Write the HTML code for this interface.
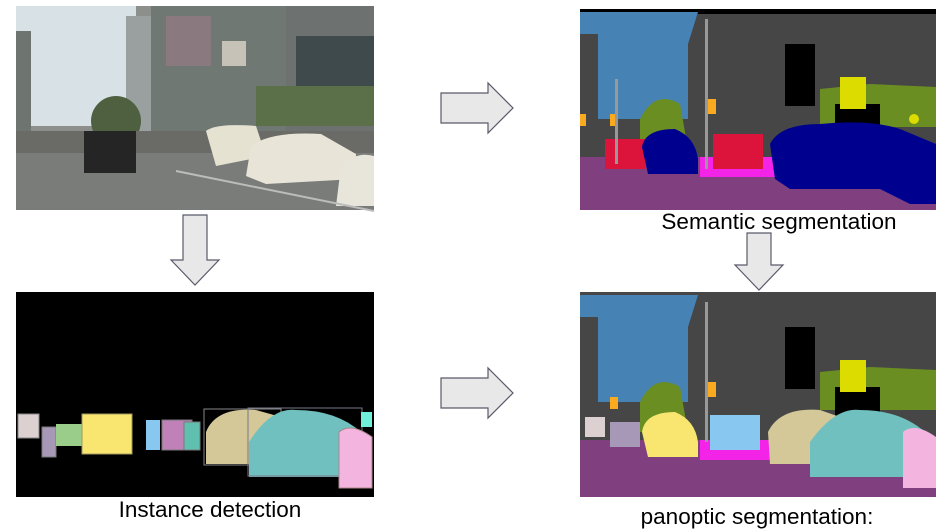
<!DOCTYPE html>
<html><head><style>
html,body{margin:0;padding:0;background:#fff;width:947px;height:530px;overflow:hidden}
svg{display:block}
text{font-family:"Liberation Sans",sans-serif;font-size:22.5px;fill:#000}
</style></head><body>
<svg width="947" height="530" viewBox="0 0 947 530" xmlns="http://www.w3.org/2000/svg">
<!-- Photo -->
<g transform="translate(16,6)">
<rect width="358" height="204" fill="#8d8f8c"/>
<rect width="120" height="120" fill="#d8e2e6"/>
<rect x="0" y="25" width="15" height="105" fill="#6e7470"/>
<rect x="110" y="10" width="30" height="140" fill="#9aa0a0"/>
<rect x="135" y="0" width="135" height="145" fill="#707874"/>
<rect x="270" y="0" width="88" height="130" fill="#6d7270"/>
<rect x="150" y="10" width="45" height="50" fill="#8a7a80"/>
<rect x="206" y="35" width="24" height="25" fill="#c7c2b8"/>
<rect x="280" y="30" width="78" height="50" fill="#3f4a4c"/>
<rect x="240" y="80" width="118" height="40" fill="#5b7048"/>
<ellipse cx="100" cy="115" rx="25" ry="25" fill="#4e6040"/>
<rect x="0" y="145" width="358" height="59" fill="#7a7c7a"/>
<rect x="0" y="125" width="358" height="22" fill="#6a6a66"/>
<path d="M68,125 h52 v42 h-52z" fill="#252525"/>
<path d="M190,125 q10,-8 50,-5 l10,30 -50,10 z" fill="#e6e2d2"/>
<path d="M230,170 l5,-30 q20,-15 70,-12 l35,20 v25 l-90,5z" fill="#e8e5d8"/>
<path d="M320,200 l5,-40 q15,-15 33,-10 v50z" fill="#e8e6da"/>
<path d="M160,165 l198,40" stroke="#bcbcbc" stroke-width="2"/>
</g>
<!-- Semantic -->
<g transform="translate(580,9)">
<rect width="356" height="201" fill="#464646"/>
<rect width="356" height="5" fill="#000"/>
<path d="M0,3 H118 L108,35 V110 H18 V25 H0Z" fill="#4682b4"/>
<rect x="205" y="35" width="30" height="62" fill="#000"/>
<path d="M240,80 L290,75 L356,78 V118 H240Z" fill="#6b8e23"/>
<path d="M60,110 Q75,80 100,95 L108,140 H60Z" fill="#6b8e23"/>
<rect x="255" y="95" width="45" height="30" fill="#000"/>
<rect x="260" y="68" width="26" height="32" fill="#dcdc00"/>
<circle cx="334" cy="110" r="5" fill="#dcdc00"/>
<rect x="0" y="148" width="356" height="53" fill="#804080"/>
<rect x="120" y="148" width="75" height="20" fill="#f423e8"/>
<path d="M25,130 h40 v30 h-40z" fill="#dc143c"/>
<path d="M133,125 h50 v35 h-50z" fill="#dc143c"/>
<path d="M62,138 Q65,120 95,120 Q115,128 118,150 V165 H68Z" fill="#00008e"/>
<path d="M190,135 Q200,115 240,115 Q290,110 320,120 L356,135 V195 H330 L300,180 H210 L195,170Z" fill="#00008e"/>
<rect x="30" y="105" width="8" height="12" fill="#faaa1e"/>
<rect x="128" y="90" width="8" height="15" fill="#faaa1e"/>
<rect x="0" y="105" width="6" height="12" fill="#faaa1e"/>
<rect x="35" y="70" width="3" height="85" fill="#999"/>
<rect x="125" y="10" width="3" height="150" fill="#999"/>
</g>
<!-- Instance -->
<g transform="translate(16,292)">
<rect width="358" height="205" fill="#000"/>
<rect x="2" y="122" width="21" height="24" fill="#ddd0d0" stroke="#888"/>
<rect x="26" y="135" width="14" height="30" fill="#a898b8" stroke="#777"/>
<rect x="40" y="132" width="30" height="22" fill="#9acc8a"/>
<path d="M66,122 h50 v40 h-50z" fill="#f8e670" stroke="#a09860"/>
<rect x="130" y="128" width="14" height="30" fill="#88c8f0"/>
<rect x="146" y="128" width="30" height="30" fill="#c080b8" stroke="#777"/>
<rect x="168" y="130" width="16" height="28" fill="#60c0b0" stroke="#777"/>
<rect x="188" y="117" width="77" height="56" fill="none" stroke="#888"/>
<path d="M190,140 Q200,115 240,118 L265,125 V172 H190Z" fill="#d4c898"/>
<path d="M233,170 V150 Q255,115 280,118 Q320,118 345,140 V185 H233Z" fill="#70c0c0"/>
<rect x="232" y="116" width="114" height="68" fill="none" stroke="#778"/>
<path d="M323,140 Q335,130 356,145 V196 H323Z" fill="#f4b4e0" stroke="#a88"/>
<rect x="345" y="120" width="11" height="15" fill="#70f0d8"/>
</g>
<!-- Panoptic -->
<g transform="translate(580,292)">
<rect width="356" height="205" fill="#464646"/>
<path d="M0,3 H118 L108,35 V110 H18 V25 H0Z" fill="#4682b4"/>
<rect x="205" y="35" width="30" height="62" fill="#000"/>
<path d="M240,80 L290,75 L356,78 V118 H240Z" fill="#6b8e23"/>
<path d="M60,110 Q75,80 100,95 L108,140 H60Z" fill="#6b8e23"/>
<rect x="255" y="95" width="45" height="30" fill="#000"/>
<rect x="260" y="68" width="26" height="32" fill="#dcdc00"/>
<rect x="0" y="148" width="356" height="57" fill="#804080"/>
<rect x="120" y="148" width="75" height="20" fill="#f423e8"/>
<rect x="5" y="125" width="20" height="20" fill="#ddd0d0"/>
<rect x="30" y="130" width="30" height="25" fill="#a898b8"/>
<rect x="130" y="123" width="50" height="35" fill="#88c8f0"/>
<path d="M62,140 Q65,120 95,120 Q115,128 118,150 V165 H68Z" fill="#f8e670"/>
<path d="M188,140 Q200,115 240,118 L260,125 V172 H190Z" fill="#d4c898"/>
<path d="M230,175 V150 Q255,115 280,118 Q320,118 345,140 V185 H230Z" fill="#70c0c0"/>
<path d="M323,140 Q335,130 356,145 V196 H323Z" fill="#f4b4e0"/>
<rect x="30" y="105" width="8" height="12" fill="#faaa1e"/>
<rect x="128" y="90" width="8" height="15" fill="#faaa1e"/>
<rect x="125" y="10" width="3" height="140" fill="#999"/>
</g>
<!-- Arrows -->
<g fill="#e8e8e8" stroke="#5a5a6a" stroke-width="1.2">
<path d="M441,93 H488 V83 L513,108 L488,133 V123 H441Z"/>
<path d="M441,378 H488 V368 L513,393 L488,418 V408 H441Z"/>
<path d="M183,215 H207 V260 H219 L195,285 L171,260 H183Z"/>
<path d="M747,233 H771 V265 H783 L759,290 L735,265 H747Z"/>
</g>
<text x="210" y="517" text-anchor="middle">Instance detection</text>
<text x="779" y="229" text-anchor="middle">Semantic segmentation</text>
<text x="757" y="524" text-anchor="middle">panoptic segmentation:</text>
</svg>
</body></html>
